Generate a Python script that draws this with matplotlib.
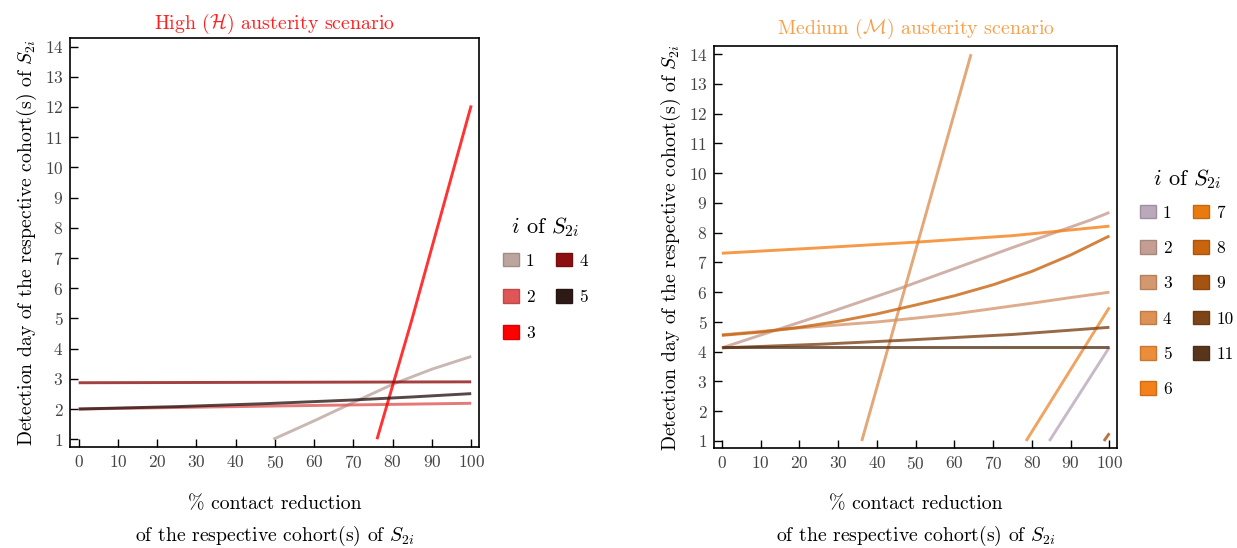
import matplotlib
matplotlib.use("Agg")
import matplotlib.pyplot as plt
from matplotlib.patches import Patch

plt.rcParams['font.family'] = 'serif'
plt.rcParams['font.serif'] = ['cmr10', 'DejaVu Serif']
plt.rcParams['mathtext.fontset'] = 'cm'
plt.rcParams['axes.formatter.use_mathtext'] = True

# --- data ---
# High austerity scenario
high_labels = ['1', '2', '3', '4', '5']
high_colors = ['#bca59f', '#e05656', '#ff0000', '#8c1010', '#2d1a16']
high_x = [
    [49.6, 60, 70, 80, 90, 100],
    [0, 50, 100],
    [76, 84.8, 100],
    [0, 100],
    [0, 25, 48, 70, 85, 100],
]
high_y = [
    [1.0, 1.61, 2.22, 2.82, 3.32, 3.74],
    [2.0, 2.1, 2.19],
    [1.0, 4.92, 12.05],
    [2.87, 2.9],
    [2.0, 2.08, 2.18, 2.3, 2.4, 2.51],
]

# Medium austerity scenario
med_labels = ['1', '2', '3', '4', '5', '6', '7', '8', '9', '10', '11']
med_colors = ['#b9a9bb', '#c49e92', '#d4986f', '#de9155', '#ec8d3a',
              '#f4801a', '#e97a10', '#c9640f', '#a45312', '#7d4418', '#59351c']
med_x = [
    [84.5, 100],
    [0, 25, 46, 75, 95, 100],
    [0, 10, 20, 30, 40, 50, 60, 70, 80, 90, 100],
    [36.1, 64.3],
    [78.5, 100],
    [0, 25, 51, 75, 100],
    [],
    [0, 10, 20, 30, 40, 50, 60, 70, 80, 90, 100],
    [98.6, 100],
    [0, 25, 46, 75, 100],
    [0, 100],
]
med_y = [
    [1.0, 4.15],
    [4.13, 5.2, 6.13, 7.5, 8.42, 8.68],
    [4.57, 4.68, 4.8, 4.9, 5.0, 5.13, 5.27, 5.45, 5.63, 5.82, 6.0],
    [1.0, 14.0],
    [1.0, 5.49],
    [7.31, 7.49, 7.69, 7.9, 8.22],
    [],
    [4.55, 4.66, 4.82, 5.02, 5.27, 5.57, 5.88, 6.25, 6.7, 7.25, 7.89],
    [1.0, 1.26],
    [4.13, 4.25, 4.38, 4.58, 4.82],
    [4.145, 4.145],
]

xticks = list(range(0, 101, 10))
yticks = list(range(1, 15))

fig = plt.figure(figsize=(12.37, 5.48), dpi=100)
ax1 = fig.add_axes([0.0569, 0.1836, 0.3305, 0.7463])
ax2 = fig.add_axes([0.5775, 0.1825, 0.3256, 0.7328])

def style(ax, xlim, ylim):
    ax.set_xlim(*xlim)
    ax.set_ylim(*ylim)
    ax.set_xticks(xticks)
    ax.set_yticks(yticks)
    ax.tick_params(direction='in', length=6, width=1, labelsize=12.5,
                   labelcolor='#444444', top=False, right=False, pad=5)
    for s in ax.spines.values():
        s.set_linewidth(1.2)
    ax.set_ylabel(r'Detection day of the respective cohort(s) of $S_{2i}$',
                  fontsize=14.2, labelpad=4)
    ax.set_xlabel('% contact reduction\nof the respective cohort(s) of $S_{2i}$',
                  fontsize=14.2, linespacing=1.62, labelpad=17)

for xs, ys, c in zip(high_x, high_y, high_colors):
    ax1.plot(xs, ys, color=c, lw=2.1, alpha=0.8, solid_capstyle='butt')
for xs, ys, c in zip(med_x, med_y, med_colors):
    if xs:
        ax2.plot(xs, ys, color=c, lw=2.1, alpha=0.8, solid_capstyle='butt')

style(ax1, (-2.11, 102.04), (0.73, 14.27))
style(ax2, (-1.94, 102.0), (0.765, 14.26))

ax1.set_title(r'High ($\mathcal{H}$) austerity scenario', color='#ff2020',
              fontsize=14.3, pad=7)
ax2.set_title(r'Medium ($\mathcal{M}$) austerity scenario', color='#f7a04a',
              fontsize=14.3, pad=9)

def darker(c):
    r, g, b = matplotlib.colors.to_rgb(c)
    return (r * 0.85, g * 0.85, b * 0.85)

leg_kw = dict(ncol=2, loc='upper left', frameon=False, fontsize=12.5,
              title=r'$i$ of $S_{2i}$', title_fontsize=16,
              handlelength=0.92, handleheight=0.84, handletextpad=0.4,
              columnspacing=1.25, borderpad=0, borderaxespad=0)

h1 = [Patch(facecolor=c, edgecolor=darker(c), lw=1) for c in high_colors]
leg1 = fig.legend(h1, high_labels, bbox_to_anchor=(503 / 1237, 1 - 215 / 548),
                  labelspacing=1.17, **leg_kw)
leg1._legend_box.sep = 10

h2 = [Patch(facecolor=c, edgecolor=darker(c), lw=1) for c in med_colors]
leg2 = fig.legend(h2, med_labels, bbox_to_anchor=(1140 / 1237, 1 - 167 / 548),
                  labelspacing=1.12, **leg_kw)
leg2._legend_box.sep = 10

fig.savefig('out.png', dpi=100)
